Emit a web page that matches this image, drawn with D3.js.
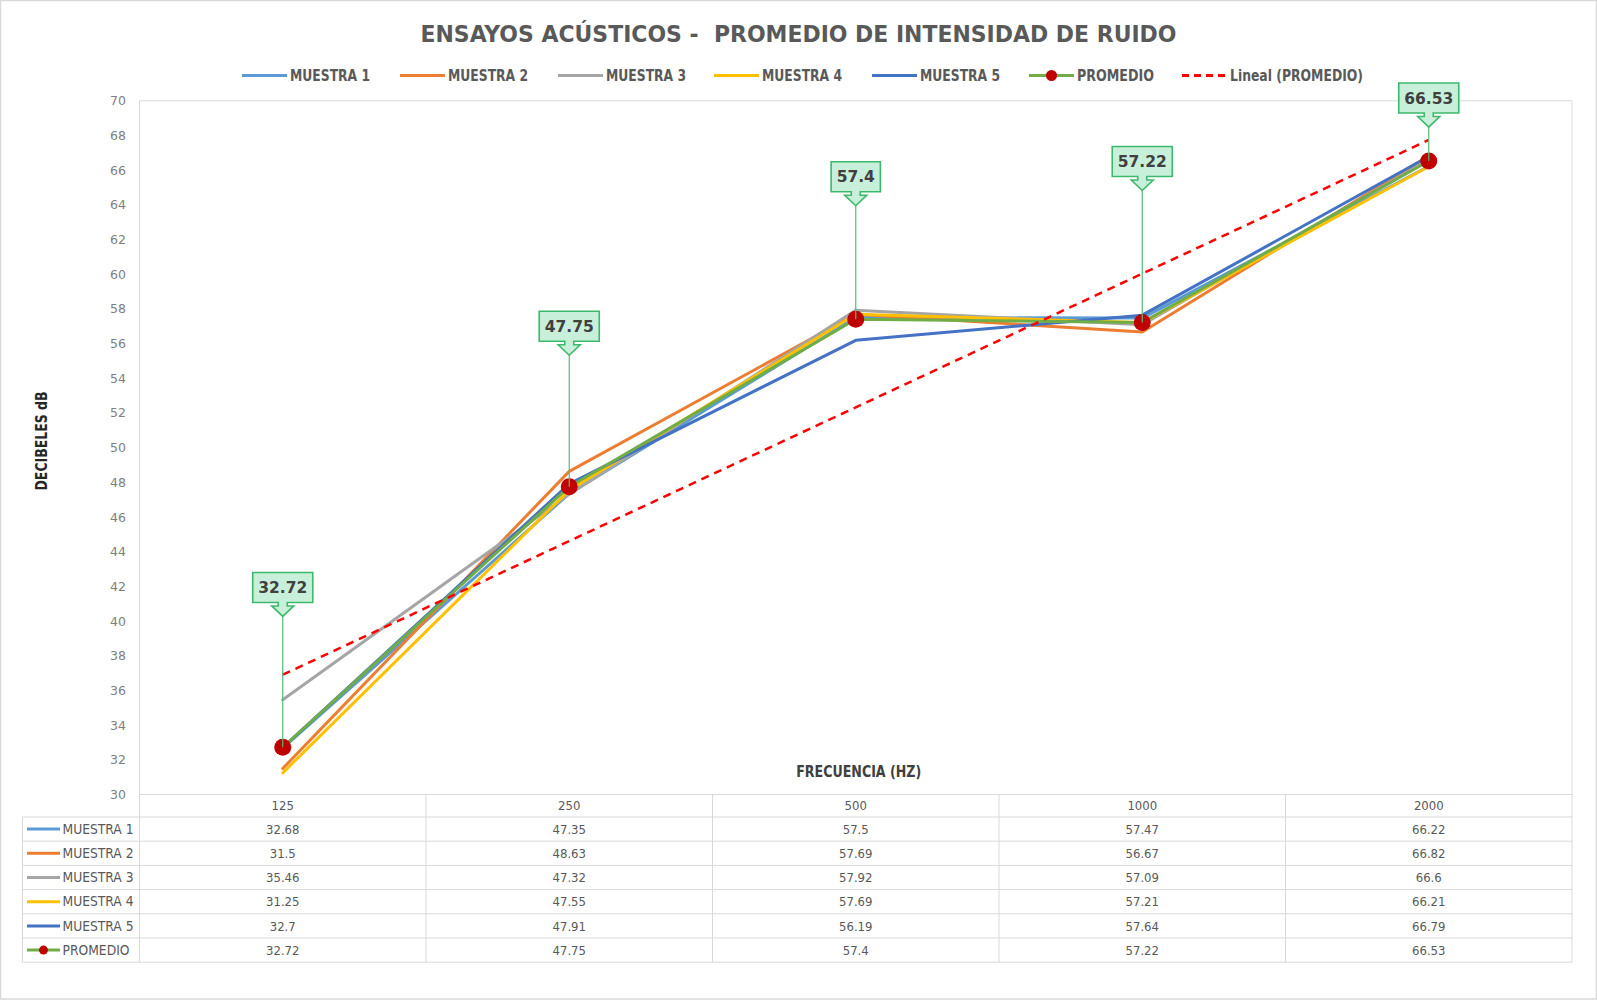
<!DOCTYPE html>
<html><head><meta charset="utf-8">
<script src="https://cdn.jsdelivr.net/npm/d3@7"></script>
<style>
html,body{margin:0;padding:0;background:#fff;}
svg{display:block;}
text.pre{white-space:pre;}
</style></head>
<body>
<svg id="chart" width="1597" height="1000"></svg>
<script>
// ---------------- DATA ----------------
const categories = ["125", "250", "500", "1000", "2000"];
const muestra1 = [32.68, 47.35, 57.5, 57.47, 66.22];
const muestra2 = [31.5, 48.63, 57.69, 56.67, 66.82];
const muestra3 = [35.46, 47.32, 57.92, 57.09, 66.6];
const muestra4 = [31.25, 47.55, 57.69, 57.21, 66.21];
const muestra5 = [32.7, 47.91, 56.19, 57.64, 66.79];
const promedio = [32.72, 47.75, 57.4, 57.22, 66.53];
const seriesNames = ["MUESTRA 1", "MUESTRA 2", "MUESTRA 3", "MUESTRA 4", "MUESTRA 5", "PROMEDIO"];
const yTickValues = [30, 32, 34, 36, 38, 40, 42, 44, 46, 48, 50, 52, 54, 56, 58, 60, 62, 64, 66, 68, 70];
const titleText = "ENSAYOS ACÚSTICOS -  PROMEDIO DE INTENSIDAD DE RUIDO";
const trendName = "Lineal (PROMEDIO)";
const yAxisTitle = "DECIBELES dB";
const xAxisTitle = "FRECUENCIA (HZ)";

// ---------------- STYLE / LAYOUT ----------------
const colors = ["#5B9BD5", "#ED7D31", "#A5A5A5", "#FFC000", "#4472C4", "#70AD47"];
const markerColor = "#C00000";
const NARROW = "'Liberation Sans Narrow','DejaVu Sans Condensed','Arial Narrow',sans-serif";
const ROUND = "'DejaVu Sans',Verdana,sans-serif";
// callout box centre heights (in axis units) as placed in the reference
const calloutLevel = [41.94, 57.0, 65.62, 66.5, 70.16];

const W = 1597, H = 1000;
const plotL = 139.5, plotR = 1572, plotT = 100.8, plotB = 794.5;
const tableL = 22.5, rowH = 24.2, headerB = 817;

const svg = d3.select("#chart");
const seriesData = [muestra1, muestra2, muestra3, muestra4, muestra5, promedio];

function fitWidth(sel, w) {
  sel.each(function () {
    const cur = this.getComputedTextLength();
    if (cur > 0 && Math.abs(cur - w) > 0.5) {
      d3.select(this).attr("textLength", w).attr("lengthAdjust", "spacingAndGlyphs");
    }
  });
}

// outer frame
svg.append("rect").attr("x", 0.5).attr("y", 0.5).attr("width", W - 1).attr("height", H - 1.5)
  .attr("fill", "#fff").attr("stroke", "#d9d9d9").attr("stroke-width", 1.5);

// scales
const x = d3.scaleBand().domain(categories).range([plotL, plotR]).padding(0);
const y = d3.scaleLinear().domain([30, 70]).range([plotB, plotT]);
const cx = c => x(c) + x.bandwidth() / 2;

// title
const title = svg.append("text").attr("class", "pre").attr("x", W / 2).attr("y", 41.5).attr("text-anchor", "middle")
  .attr("font-family", NARROW).attr("font-weight", "bold").attr("font-size", 23.5)
  .attr("fill", "#595959").text(titleText);
fitWidth(title, 756);

// legend
const legendItems = seriesNames.map((n, i) => ({name: n, color: colors[i], kind: i === 5 ? "marker" : "line"}));
legendItems.push({name: trendName, color: "#FF0000", kind: "dash"});
const legendX = [242, 400, 558, 714, 872, 1029, 1182];
const legendTextW = [80, 80, 80, 80, 80, 77, 133];
const lg = svg.append("g").attr("class", "legend");
legendItems.forEach((it, i) => {
  const g = lg.append("g").attr("transform", `translate(${legendX[i]},75.5)`);
  g.append("line").attr("x1", 0).attr("x2", 45).attr("y1", 0).attr("y2", 0)
    .attr("stroke", it.color).attr("stroke-width", 3)
    .attr("stroke-dasharray", it.kind === "dash" ? "7,5" : null);
  if (it.kind === "marker") {
    g.append("circle").attr("cx", 22.5).attr("cy", 0).attr("r", 5.5).attr("fill", markerColor);
  }
  const t = g.append("text").attr("x", 48).attr("y", 5.3)
    .attr("font-family", NARROW).attr("font-weight", "bold").attr("font-size", 15)
    .attr("fill", "#595959").text(it.name);
  fitWidth(t, legendTextW[i]);
});

// plot area border
svg.append("rect").attr("x", plotL).attr("y", plotT).attr("width", plotR - plotL).attr("height", plotB - plotT)
  .attr("fill", "none").attr("stroke", "#d9d9d9").attr("stroke-width", 1);

// y axis
const yAxis = svg.append("g").attr("transform", `translate(${plotL},0)`)
  .call(d3.axisLeft(y).tickValues(yTickValues).tickSize(0).tickPadding(13.5));
yAxis.select(".domain").remove();
yAxis.selectAll("text").attr("font-family", ROUND).attr("font-size", 12.5).attr("fill", "#808080");

// y title
const yt = svg.append("text").attr("transform", "translate(47,441) rotate(-90)").attr("text-anchor", "middle")
  .attr("font-family", NARROW).attr("font-weight", "bold").attr("font-size", 15)
  .attr("fill", "#262626").text(yAxisTitle);
fitWidth(yt, 99);

// x title
const xt = svg.append("text").attr("x", (plotL + plotR) / 2 + 3).attr("y", 777).attr("text-anchor", "middle")
  .attr("font-family", NARROW).attr("font-weight", "bold").attr("font-size", 15)
  .attr("fill", "#404040").text(xAxisTitle);
fitWidth(xt, 125);

// ---------------- DATA TABLE ----------------
const tbl = svg.append("g").attr("class", "table");
const nRows = seriesNames.length;
const tableB = headerB + nRows * rowH;
for (let r = 0; r <= nRows; r++) {
  const yy = headerB + r * rowH;
  tbl.append("line").attr("x1", tableL).attr("x2", plotR).attr("y1", yy).attr("y2", yy)
    .attr("stroke", "#d9d9d9").attr("stroke-width", 1);
}
tbl.append("line").attr("x1", tableL).attr("x2", tableL).attr("y1", headerB).attr("y2", tableB)
  .attr("stroke", "#d9d9d9");
categories.forEach((c) => {
  const xx = x(c);
  tbl.append("line").attr("x1", xx).attr("x2", xx).attr("y1", plotB).attr("y2", tableB).attr("stroke", "#d9d9d9");
});
tbl.append("line").attr("x1", plotR).attr("x2", plotR).attr("y1", plotB).attr("y2", tableB).attr("stroke", "#d9d9d9");

// header (category axis)
const xAxis = svg.append("g").attr("transform", `translate(0,${plotB})`)
  .call(d3.axisBottom(x).tickSize(0).tickPadding(6));
xAxis.select(".domain").remove();
xAxis.selectAll("text").attr("font-family", NARROW).attr("font-size", 13).attr("fill", "#595959");

// rows
seriesData.forEach((vals, r) => {
  const ym = headerB + r * rowH + rowH / 2;
  tbl.append("line").attr("x1", 27).attr("x2", 60).attr("y1", ym).attr("y2", ym)
    .attr("stroke", colors[r]).attr("stroke-width", 3);
  if (r === 5) tbl.append("circle").attr("cx", 43.5).attr("cy", ym).attr("r", 4.5).attr("fill", markerColor);
  const kt = tbl.append("text").attr("x", 62.5).attr("y", ym + 4.6)
    .attr("font-family", NARROW).attr("font-size", 13.5).attr("fill", "#595959").text(seriesNames[r]);
  fitWidth(kt, r === 5 ? 67 : 71);
  vals.forEach((v, i) => {
    tbl.append("text").attr("x", cx(categories[i])).attr("y", ym + 4.6).attr("text-anchor", "middle")
      .attr("font-family", NARROW).attr("font-size", 13).attr("fill", "#595959").text(String(v));
  });
});

// ---------------- SERIES ----------------
const line = d3.line().x((d, i) => cx(categories[i])).y(d => y(d));
const plot = svg.append("g");
seriesData.forEach((vals, s) => {
  plot.append("path").datum(vals).attr("d", line).attr("fill", "none")
    .attr("stroke", colors[s]).attr("stroke-width", 3).attr("stroke-linejoin", "round").attr("stroke-linecap", "round");
});

// linear trend (least squares on PROMEDIO vs category index)
const idx = promedio.map((_, i) => i + 1);
const mx = d3.mean(idx), my = d3.mean(promedio);
const slope = d3.sum(idx.map((k, i) => (k - mx) * (promedio[i] - my))) / d3.sum(idx.map(k => (k - mx) ** 2));
const icpt = my - slope * mx;
const trend = [icpt + slope * 1, icpt + slope * 5];
plot.append("line")
  .attr("x1", cx(categories[0])).attr("y1", y(trend[0]))
  .attr("x2", cx(categories[4])).attr("y2", y(trend[1]))
  .attr("stroke", "#FF0000").attr("stroke-width", 2.5).attr("stroke-dasharray", "8,6");

// markers
plot.selectAll("circle.m").data(promedio).join("circle").attr("class", "m")
  .attr("cx", (d, i) => cx(categories[i])).attr("cy", d => y(d)).attr("r", 8.5).attr("fill", markerColor);

// ---------------- CALLOUTS ----------------
const cg = svg.append("g");
promedio.forEach((v, i) => {
  const px = cx(categories[i]);
  const by = y(calloutLevel[i]);
  const t = cg.append("text").attr("x", px).attr("y", by + 5.5).attr("text-anchor", "middle")
    .attr("font-family", ROUND).attr("font-weight", "bold").attr("font-size", 15.5)
    .attr("fill", "#404040").text(String(v));
  const tw = t.node().getComputedTextLength();
  const bw = tw + 11, bh = 30;
  const x0 = px - bw / 2, x1 = px + bw / 2, y0 = by - bh / 2, y1 = by + bh / 2;
  const tipY = y1 + 14;
  cg.insert("line", "text").attr("x1", px).attr("x2", px).attr("y1", tipY).attr("y2", y(v))
    .attr("stroke", "#4dbd7a").attr("stroke-width", 1.2);
  const p = `M${x0},${y0}H${x1}V${y1}H${px + 4.5}V${y1 + 3.5}H${px + 11}L${px},${tipY}L${px - 11},${y1 + 3.5}H${px - 4.5}V${y1}H${x0}Z`;
  cg.insert("path", "text").attr("d", p).attr("fill", "#c8efd9").attr("stroke", "#3cb96c").attr("stroke-width", 1.6);
  t.raise();
});
</script>
</body></html>
